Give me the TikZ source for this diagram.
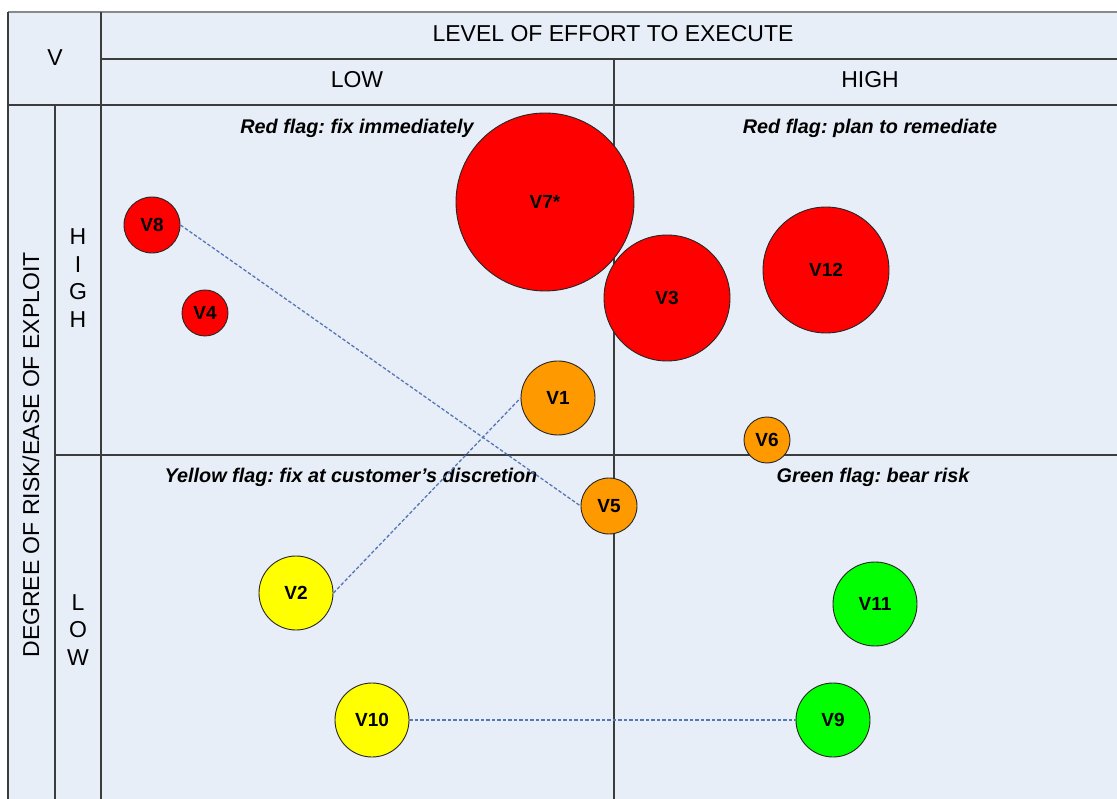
\documentclass[tikz,border=0pt]{standalone}
\usepackage{fontspec}
\setmainfont{Liberation Sans}
\frenchspacing
\definecolor{panel}{HTML}{E8EEF7}
\definecolor{rule}{HTML}{3C3C3C}
\definecolor{topline}{HTML}{8A8A8A}
\definecolor{linkblue}{HTML}{5677B5}
\definecolor{hot}{HTML}{FF0000}
\definecolor{warm}{HTML}{FF9900}
\definecolor{mild}{HTML}{FFFF00}
\definecolor{cool}{HTML}{00FF00}
\tikzset{
    vuln/.style={
        circle, draw=black!85, line width=0.9pt, fill=#1, inner sep=0pt,
        font=\fontsize{19}{19}\selectfont\bfseries
    },
    head/.style={font=\fontsize{23}{27.5}\selectfont, inner sep=0pt},
    flag/.style={font=\fontsize{19.8}{20}\selectfont\bfseries\itshape, inner sep=0pt},
    link/.style={draw=linkblue, line width=1.3pt, dash pattern=on 3.5pt off 2pt}
}
\newcommand{\bubble}[6] {
	\node[vuln=#5, minimum size=2*#4] (#1) at (#2,#3) {#6};
}
\begin{document}
\begin{tikzpicture}[x=1pt,y=-1pt]
		\useasboundingbox (0,0) rectangle (1117,799);

		% Grid
		\fill [panel] (8,12) rectangle (1117,799);
		\draw [topline, line width=2pt] (8,12) -- (1117,12);
		\draw [rule, line width=1.2pt] (8,12) -- (8,799);
		\draw [rule, line width=1.2pt] (101,12) -- (101,799);
		\draw [rule, line width=1.2pt] (55,105) -- (55,799);
		\draw [rule, line width=1.2pt] (614,59) -- (614,799);
		\draw [rule, line width=1.2pt] (101,59) -- (1117,59);
		\draw [rule, line width=1.2pt] (8,105) -- (1117,105);
		\draw [rule, line width=1.2pt] (55,455) -- (1117,455);

		% Headings
		\node[head] (corner) at (55,58) {V};
		\node[head] (effort) at (613,34) {LEVEL OF EFFORT TO EXECUTE};
		\node[head] (effortlow) at (357,80) {LOW};
		\node[head] (efforthigh) at (870,80) {HIGH};
		\node[head, rotate=90] (risk) at (31,455) {DEGREE OF RISK/EASE OF EXPLOIT};
		\node[head, align=center] (riskhigh) at (78,278) {H\\I\\G\\H};
		\node[head, align=center] (risklow) at (78,630) {L\\O\\W};

		% Quadrant labels
		\node[flag] (fixnow) at (357,128) {Red flag: fix immediately};
		\node[flag] (remediate) at (870,128) {Red flag: plan to remediate};
		\node[flag] (discretion) at (351,477) {Yellow flag: fix at customer’s discretion};
		\node[flag] (bearrisk) at (873,477) {Green flag: bear risk};

		% Vulnerabilities
		\bubble{v7}{545}{202}{89}{hot}{V7*}
		\bubble{v3}{667}{298}{63}{hot}{V3}
		\bubble{v12}{826}{270}{63}{hot}{V12}
		\bubble{v8}{152}{225}{28}{hot}{V8}
		\bubble{v4}{205}{313}{23}{hot}{V4}
		\bubble{v1}{558}{398}{37}{warm}{V1}
		\bubble{v6}{767}{440}{23}{warm}{V6}
		\bubble{v5}{609}{506}{28}{warm}{V5}
		\bubble{v2}{296}{593}{37}{mild}{V2}
		\bubble{v10}{372}{720}{37}{mild}{V10}
		\bubble{v11}{875}{604}{42}{cool}{V11}
		\bubble{v9}{833}{720}{37}{cool}{V9}

		% Links
		\draw[link] (v8.east) -- (v5.west);
		\draw[link] (v2.east) -- (v1.west);
		\draw[link] (v10.east) -- (v9.west);

	\end{tikzpicture}
\end{document}
